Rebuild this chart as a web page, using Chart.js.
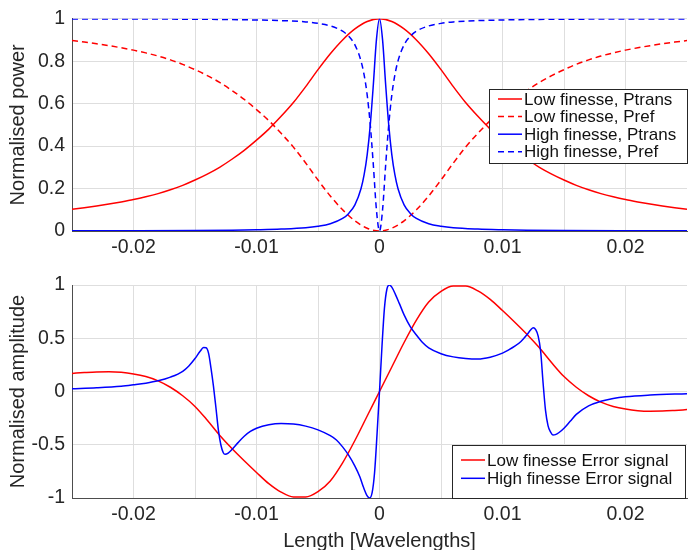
<!DOCTYPE html>
<html>
<head>
<meta charset="utf-8">
<script src="https://cdn.jsdelivr.net/npm/chart.js@4.4.1/dist/chart.umd.min.js"></script>
<style>
  html, body { margin: 0; padding: 0; background: #fff; }
  #wrap { position: relative; width: 693px; height: 550px; overflow: hidden; }
  #top { position: absolute; left: 0; top: 0; }
  #bot { position: absolute; left: 0; top: 262px; }
</style>
</head>
<body>
<div id="wrap">
  <canvas id="top" width="693" height="262"></canvas>
  <canvas id="bot" width="693" height="288"></canvas>
</div>
<script>
// Cavité Fabry-Perot : puissance transmise / réfléchie et signal d'erreur

// ── Panneau du haut : puissance normalisée ─────────────
const xLow = [-0.025, -0.024, -0.023, -0.022, -0.021, -0.02, -0.019, -0.018, -0.017, -0.016,
    -0.015, -0.014, -0.013, -0.012, -0.011, -0.01, -0.009, -0.008, -0.007, -0.006,
    -0.005, -0.004, -0.003, -0.002, -0.001, 0, 0.001, 0.002, 0.003, 0.004,
    0.005, 0.006, 0.007, 0.008, 0.009, 0.01, 0.011, 0.012, 0.013, 0.014,
    0.015, 0.016, 0.017, 0.018, 0.019, 0.02, 0.021, 0.022, 0.023, 0.024, 0.025];

const lowPtrans = [0.103, 0.11, 0.118, 0.127, 0.137, 0.148, 0.161, 0.176, 0.194, 0.215,
    0.24, 0.268, 0.30, 0.338, 0.38, 0.428, 0.48, 0.54, 0.605, 0.68,
    0.76, 0.835, 0.9, 0.952, 0.987, 1, 0.987, 0.952, 0.9, 0.835,
    0.76, 0.68, 0.605, 0.54, 0.48, 0.428, 0.38, 0.338, 0.30, 0.268,
    0.24, 0.215, 0.194, 0.176, 0.161, 0.148, 0.137, 0.127, 0.118, 0.11, 0.103];

const lowPref = [0.897, 0.89, 0.882, 0.873, 0.863, 0.852, 0.839, 0.824, 0.806, 0.785,
    0.76, 0.732, 0.70, 0.662, 0.62, 0.572, 0.52, 0.46, 0.395, 0.32,
    0.24, 0.165, 0.1, 0.048, 0.013, 0, 0.013, 0.048, 0.1, 0.165,
    0.24, 0.32, 0.395, 0.46, 0.52, 0.572, 0.62, 0.662, 0.70, 0.732,
    0.76, 0.785, 0.806, 0.824, 0.839, 0.852, 0.863, 0.873, 0.882, 0.89, 0.897];

const xHigh = [-0.025, -0.02, -0.015, -0.012, -0.01, -0.008, -0.006, -0.005, -0.004, -0.003,
    -0.0025, -0.002, -0.0015, -0.00125, -0.001, -0.00075, -0.0005, -0.00025, 0,
    0.00025, 0.0005, 0.00075, 0.001, 0.00125, 0.0015, 0.002, 0.0025, 0.003,
    0.004, 0.005, 0.006, 0.008, 0.01, 0.012, 0.015, 0.02, 0.025];

const highPtrans = [0.0009, 0.0014, 0.0025, 0.004, 0.006, 0.009, 0.015, 0.022, 0.034, 0.059,
    0.083, 0.123, 0.2, 0.265, 0.36, 0.5, 0.69, 0.9, 1,
    0.9, 0.69, 0.5, 0.36, 0.265, 0.2, 0.123, 0.083, 0.059,
    0.034, 0.022, 0.015, 0.009, 0.006, 0.004, 0.0025, 0.0014, 0.0009];

const highPref = [0.999, 0.9986, 0.9975, 0.996, 0.994, 0.991, 0.985, 0.978, 0.966, 0.941,
    0.917, 0.877, 0.8, 0.735, 0.64, 0.5, 0.31, 0.1, 0,
    0.1, 0.31, 0.5, 0.64, 0.735, 0.8, 0.877, 0.917, 0.941,
    0.966, 0.978, 0.985, 0.991, 0.994, 0.996, 0.9975, 0.9986, 0.999];

// ── Panneau du bas : signal d'erreur ─────────────
const lowErr = [0.17, 0.178, 0.184, 0.185, 0.18, 0.165, 0.14, 0.1, 0.04, -0.04,
    -0.14, -0.27, -0.41, -0.535, -0.65, -0.76, -0.865, -0.945, -0.99, -0.99,
    -0.94, -0.84, -0.67, -0.46, -0.23, 0, 0.23, 0.46, 0.67, 0.84,
    0.94, 0.99, 0.99, 0.945, 0.865, 0.76, 0.65, 0.535, 0.41, 0.27,
    0.14, 0.04, -0.04, -0.1, -0.14, -0.165, -0.18, -0.185, -0.184, -0.178, -0.17];

const xErrHigh = [-0.025, -0.023, -0.021, -0.02, -0.019, -0.018, -0.017, -0.016, -0.0155, -0.015,
    -0.0146, -0.0143, -0.0141, -0.0139, -0.0137, -0.0135, -0.0133, -0.0131, -0.0129, -0.0127,
    -0.01255, -0.0123, -0.012, -0.0115, -0.011, -0.0105, -0.01, -0.009, -0.008, -0.007,
    -0.006, -0.005, -0.004, -0.0035, -0.003, -0.0025, -0.002, -0.0016, -0.0013, -0.001,
    -0.0008, -0.0006, -0.0004, -0.0002, 0, 0.0002, 0.0004, 0.0006, 0.0008, 0.001,
    0.0013, 0.0016, 0.002, 0.0025, 0.003, 0.0035, 0.004, 0.005, 0.006, 0.007,
    0.008, 0.009, 0.01, 0.0105, 0.011, 0.0115, 0.012, 0.0123, 0.0125, 0.0127,
    0.0129, 0.0131, 0.0133, 0.0135, 0.0137, 0.0139, 0.0141, 0.0143, 0.0146, 0.015,
    0.0155, 0.016, 0.017, 0.018, 0.019, 0.02, 0.022, 0.025];

const highErr = [0.025, 0.035, 0.05, 0.063, 0.078, 0.1, 0.135, 0.19, 0.24, 0.31,
    0.375, 0.412, 0.41, 0.36, 0.22, 0.05, -0.15, -0.36, -0.5, -0.575,
    -0.59, -0.578, -0.545, -0.48, -0.42, -0.375, -0.345, -0.312, -0.3, -0.305,
    -0.325, -0.36, -0.415, -0.455, -0.52, -0.6, -0.7, -0.8, -0.9, -0.98,
    -1.0, -0.95, -0.76, -0.4, 0, 0.42, 0.78, 0.96, 1.0, 0.98,
    0.91, 0.83, 0.72, 0.61, 0.53, 0.46, 0.41, 0.355, 0.325, 0.31,
    0.305, 0.322, 0.36, 0.39, 0.425, 0.47, 0.535, 0.58, 0.598, 0.58,
    0.52, 0.38, 0.08, -0.18, -0.32, -0.38, -0.408, -0.405, -0.385, -0.345,
    -0.28, -0.215, -0.135, -0.092, -0.066, -0.05, -0.034, -0.02];

const RED = '#ff0000';
const BLUE = '#0000ff';
const DASH = [6, 4];
const FONT = '"Liberation Sans", Arial, Helvetica, sans-serif';

Chart.defaults.font.family = FONT;
Chart.defaults.color = '#262626';

function points(xs, ys) {
    return xs.map((x, i) => ({ x, y: ys[i] }));
}

function line(label, xs, ys, color, dashed, order) {
    return {
        label,
        data: points(xs, ys),
        borderColor: color,
        backgroundColor: color,
        borderWidth: 1.5,
        borderDash: dashed ? DASH : [],
        pointRadius: 0,
        fill: false,
        cubicInterpolationMode: 'monotone',
        order,
    };
}

// Légende encadrée façon MATLAB, dessinée à la main
const boxLegend = {
    id: 'boxLegend',
    afterDraw(chart, args, o) {
        const ctx = chart.ctx;
        ctx.save();
        ctx.fillStyle = '#fff';
        ctx.fillRect(o.x, o.y, o.w, o.h);
        ctx.strokeStyle = '#262626';
        ctx.lineWidth = 1;
        ctx.strokeRect(o.x + 0.5, o.y + 0.5, o.w, o.h);
        ctx.font = `17px ${FONT}`;
        ctx.textBaseline = 'middle';
        chart.data.datasets.forEach((ds, i) => {
            const cy = o.y + o.first + i * o.row;
            ctx.strokeStyle = ds.borderColor;
            ctx.lineWidth = 1.5;
            ctx.setLineDash(ds.borderDash);
            ctx.beginPath();
            ctx.moveTo(o.x + 9, cy);
            ctx.lineTo(o.x + 33, cy);
            ctx.stroke();
            ctx.setLineDash([]);
            ctx.fillStyle = '#111';
            ctx.fillText(ds.label, o.x + 35, cy + 1);
        });
        ctx.restore();
    },
};

function options({ yMin, yMax, yStep, yTitle, xTitle, padTop, xHeight, legend }) {
    const gridColor = '#dedede';
    return {
        responsive: false,
        animation: false,
        layout: { padding: { left: 0, right: 6, top: padTop, bottom: 0 } },
        plugins: { legend: { display: false }, tooltip: { enabled: false }, boxLegend: legend },
        scales: {
            x: {
                type: 'linear',
                min: -0.025,
                max: 0.025,
                afterFit(s) { s.height = xHeight; },
                border: { display: true, color: '#4d4d4d', width: 1 },
                grid: {
                    drawTicks: false,
                    color: (c) => (c.tick && Math.abs(Math.abs(c.tick.value) - 0.025) < 1e-9 ? 'rgba(0,0,0,0)' : gridColor),
                },
                ticks: {
                    stepSize: 0.005,
                    autoSkip: false,
                    maxRotation: 0,
                    padding: 5,
                    font: { size: 19.5 },
                    callback: (v) => {
                        const m = Math.round(v * 1000);
                        return m % 10 === 0 ? String(m / 1000) : '';
                    },
                },
                title: {
                    display: !!xTitle,
                    text: xTitle,
                    font: { size: 20, lineHeight: 0.9 },
                    padding: { top: 0, bottom: 0 },
                },
            },
            y: {
                type: 'linear',
                min: yMin,
                max: yMax,
                afterFit(s) { s.width = 72; },
                border: { display: true, color: '#4d4d4d', width: 1 },
                grid: { drawTicks: false, color: gridColor },
                ticks: {
                    stepSize: yStep,
                    padding: 7,
                    font: { size: 19.5 },
                    callback: (v) => String(Math.round(v * 10) / 10),
                },
                title: {
                    display: true,
                    text: yTitle,
                    font: { size: 20 },
                    padding: { top: 6, bottom: 0 },
                },
            },
        },
    };
}

new Chart(document.getElementById('top'), {
    type: 'line',
    data: {
        datasets: [
            line('Low finesse, Ptrans', xLow, lowPtrans, RED, false, 4),
            line('Low finesse, Pref', xLow, lowPref, RED, true, 3),
            line('High finesse, Ptrans', xHigh, highPtrans, BLUE, false, 2),
            line('High finesse, Pref', xHigh, highPref, BLUE, true, 1),
        ],
    },
    options: options({
        yMin: 0, yMax: 1, yStep: 0.2, yTitle: 'Normalised power', xTitle: '',
        padTop: 18, xHeight: 31,
        legend: { x: 489, y: 89, w: 198, h: 74, first: 10, row: 17.6 },
    }),
    plugins: [boxLegend],
});

new Chart(document.getElementById('bot'), {
    type: 'line',
    data: {
        datasets: [
            line('Low finesse Error signal', xLow, lowErr, RED, false, 2),
            line('High finesse Error signal', xErrHigh, highErr, BLUE, false, 1),
        ],
    },
    options: options({
        yMin: -1, yMax: 1, yStep: 0.5, yTitle: 'Normalised amplitude', xTitle: 'Length [Wavelengths]',
        padTop: 23, xHeight: 52,
        legend: { x: 452, y: 183, w: 233, h: 53, first: 15, row: 18.3 },
    }),
    plugins: [boxLegend],
});
</script>
</body>
</html>
